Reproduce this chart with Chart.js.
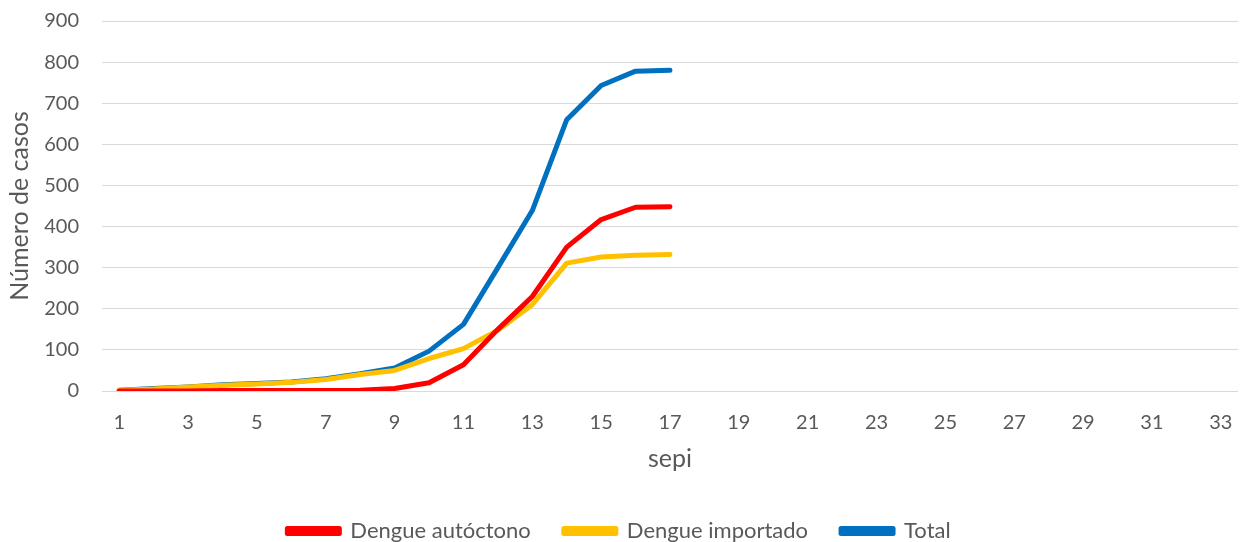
<!DOCTYPE html>
<html>
<head>
<meta charset="utf-8">
<script src="https://cdn.jsdelivr.net/npm/chart.js@4"></script>
<style>
    html, body { margin: 0; padding: 0; background: #fff; }
    #wrap { width: 1245px; height: 542px; }
</style>
</head>
<body>
<div id="wrap"><canvas id="casesChart" width="1245" height="542"></canvas></div>
<script>
const weeks = [];
for (let w = 1; w <= 33; w++) weeks.push(String(w));

// valores (semanas 1 a 17)
const autoctono = [0, 0, 0, 1, 1, 1, 1, 2, 6, 20, 64, 150, 230, 350, 417, 447, 448];
const importado = [2, 5, 10, 14, 17, 21, 28, 40, 50, 79, 103, 148, 210, 311, 326, 330, 332];
const total = [2, 6, 10, 15, 18, 22, 30, 42, 56, 97, 162, 300, 439, 660, 743, 778, 780];

const yTicks = [0, 100, 200, 300, 400, 500, 600, 700, 800, 900];

const fontFamily = "Lato, 'Open Sans', sans-serif";
const textColor = "#595959";

function lineSet(label, data, color) {
    return {
        label,
        data,
        borderColor: color,
        backgroundColor: color,
        borderWidth: 5,
        pointRadius: 0,
        pointHoverRadius: 0,
        tension: 0,
        fill: false,
        borderCapStyle: "round",
        borderJoinStyle: "round",
    };
}

new Chart(document.getElementById("casesChart"), {
    type: "line",
    data: {
        labels: weeks,
        datasets: [
            lineSet("Dengue autóctono", autoctono, "#FF0000"),
            lineSet("Dengue importado", importado, "#FFC000"),
            lineSet("Total", total, "#0070C0"),
        ],
    },
    options: {
        responsive: false,
        animation: false,
        layout: {
            padding: { left: 0, right: 7, top: 21, bottom: -10 },
        },
        plugins: {
            tooltip: { enabled: false },
            legend: {
                position: "bottom",
                labels: {
                    color: textColor,
                    font: { family: fontFamily, size: 22 },
                    boxWidth: 52,
                    boxHeight: 5,
                    padding: 33,
                },
            },
        },
        scales: {
            x: {
                offset: true,
                grid: { display: false, drawTicks: false },
                border: { display: false },
                ticks: {
                    color: textColor,
                    font: { family: fontFamily, size: 20 },
                    autoSkip: false,
                    maxRotation: 0,
                    padding: 20,
                    callback: function (value, index) {
                        return index % 2 === 0 ? this.getLabelForValue(value) : "";
                    },
                },
                title: {
                    display: true,
                    text: "sepi",
                    color: textColor,
                    font: { family: fontFamily, size: 25 },
                    padding: { top: -11, bottom: 13 },
                },
                afterFit: (axis) => {
                    axis.paddingLeft = 0;
                    axis.paddingRight = 0;
                },
            },
            y: {
                min: 0,
                max: 900,
                afterBuildTicks: (axis) => {
                    axis.ticks = yTicks.map((v) => ({ value: v }));
                },
                grid: { color: "#D9D9D9", lineWidth: 1, drawTicks: false },
                border: { display: false },
                ticks: {
                    color: textColor,
                    font: { family: fontFamily, size: 20 },
                    padding: 23,
                },
                title: {
                    display: true,
                    text: "Número de casos",
                    color: textColor,
                    font: { family: fontFamily, size: 25 },
                    padding: { top: 5, bottom: 0 },
                },
                afterFit: (axis) => {
                    axis.width = 102;
                    axis.paddingTop = 0;
                    axis.paddingBottom = 0;
                },
            },
        },
    },
});
</script>
</body>
</html>
